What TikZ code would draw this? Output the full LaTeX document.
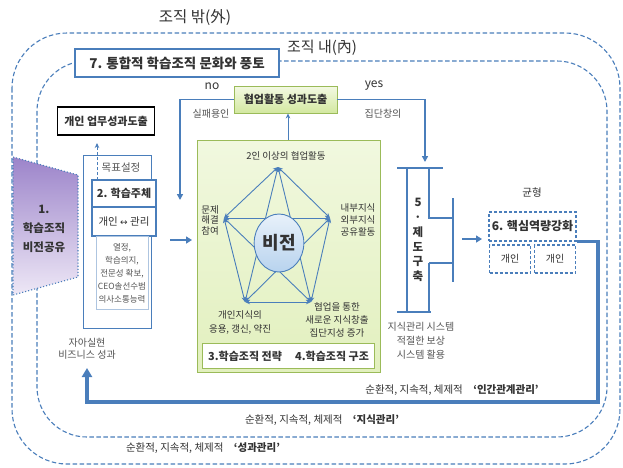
\documentclass[tikz,border=0pt]{standalone}
\usepackage{fontspec}
\setmainfont{Noto Sans CJK KR}
\newfontfamily\dejavu{DejaVu Sans}
\usetikzlibrary{arrows.meta,shapes.geometric}
\definecolor{ob}{HTML}{4A7EBB}
\definecolor{dk}{HTML}{333333}
\definecolor{gy}{HTML}{555555}
\definecolor{gline}{HTML}{9BBB59}
\definecolor{gtop}{HTML}{F1F8DF}
\definecolor{gbot}{HTML}{E2F0BE}
\definecolor{ctop}{HTML}{F3F9E3}
\definecolor{cbot}{HTML}{D3E8A0}
\definecolor{ptop}{HTML}{9C84CA}
\definecolor{pbot}{HTML}{EEE8F6}
\definecolor{etop}{HTML}{E8F1FA}
\definecolor{ebot}{HTML}{B8D3EE}
\newcommand\fz[2]{\fontsize{#1}{#2}\selectfont}
\tikzset{
 every node/.style={text=dk, inner sep=1pt},
 dashframe/.style={draw=ob, dash pattern=on 4.5pt off 2.5pt, line width=1.1pt},
 bluebox/.style={draw=ob, line width=1.5pt, fill=white, inner sep=0pt},
 dashbox/.style={draw=ob, dash pattern=on 3pt off 2pt, line width=1.3pt, fill=white, inner sep=0pt},
 thinarr/.style={draw=ob, line width=0.9pt, -{Stealth[length=5pt,width=4.5pt]}},
 medarr/.style={draw=ob, line width=1.8pt, -{Triangle[length=6pt,width=7pt]}},
 biarr/.style={draw=ob, line width=0.9pt, {Stealth[length=5pt,width=4.5pt]}-{Stealth[length=5pt,width=4.5pt]}},
 smalltxt/.style={font=\fz{10}{12}, text=gy},
 pentlbl/.style={font=\fz{9.5}{11}, text=dk, align=center},
 bottxt/.style={font=\fz{10.5}{12}, text=dk},
}
\begin{document}
\begin{tikzpicture}[x=1pt,y=-1pt]
\useasboundingbox (0,0) rectangle (623,467);
\fill[white] (0,0) rectangle (623,467);

% dashed frames
\draw[dashframe, rounded corners=55pt] (12,33) rectangle (620,464);
\draw[dashframe, rounded corners=50pt] (37,61) rectangle (607,437);

\node[font=\fz{15.5}{17}] (outlbl) at (195,17) {조직 밖(外)};
\node[font=\fz{15}{17}, fill=white, inner sep=2pt] (inlbl) at (322,48) {조직 내(內)};

% box 7
\node[bluebox, minimum width=204pt, minimum height=28pt, font=\fz{13.5}{15}\bfseries] (b7) at (177,63) {7. 통합적 학습조직 문화와 풍토};

% individual performance box
\node[draw=black, line width=1.6pt, fill=white, minimum width=97pt, minimum height=28pt, font=\fz{11}{13}\bfseries] (ind) at (106,121) {개인 업무성과도출};

% purple trapezoid
\shade[top color=ptop, bottom color=pbot] (13,157) -- (78,175) -- (78,277) -- (13,295) -- cycle;
\draw[ob, line width=1.1pt, dotted] (13,157) -- (78,175) -- (78,277) -- (13,295) -- cycle;
\node[font=\fz{11.5}{19}\bfseries, align=center] (v1) at (44,229) {1.\\학습조직\\비전공유};

% goal frame
\node[draw=ob, line width=0.8pt, minimum width=68pt, minimum height=173pt] (gframe) at (117,241.5) {};
\node[font=\fz{10.5}{12}, text=gy] (goal) at (121,168) {목표설정};
\node[bluebox, minimum width=64pt, minimum height=27pt, font=\fz{11}{13}\bfseries] (s2) at (124,193.5) {2. 학습주체};
\node[bluebox, minimum width=64pt, minimum height=29pt, font=\fz{10.5}{12}] (s2b) at (124,221.5) {개인 {\dejavu\fz{9}{12}↔} 관리};
\node[draw=ob!45, line width=0.6pt, minimum width=52pt, minimum height=73pt, font=\fz{8.5}{13}, text=gy, align=center] (lst) at (122,273) {열정,\\학습의지,\\전문성 확보,\\CEO솔선수범\\의사소통능력};
\coordinate (gtopc) at (97,180);
\coordinate (gend) at (97,143);
\draw[ob, line width=0.9pt, dash pattern=on 3pt off 2pt, -{Stealth[length=5pt,width=4.5pt]}] (gtopc) -- (gend);

% arrow to green box
\coordinate (a1s) at (170,240);
\coordinate (a1e) at (192,240);
\draw[medarr] (a1s) -- (a1e);

% green box
\node[draw=gline, line width=0.9pt, top color=gtop, bottom color=gbot, minimum width=183pt, minimum height=232pt] (gbox) at (288.5,256) {};
\node[draw=gline, line width=0.9pt, fill=white, minimum width=172pt, minimum height=25pt, font=\fz{11}{13}\bfseries] (strat) at (288.5,356) {3.학습조직 전략\hspace{1.2em}4.학습조직 구조};

% coop box
\node[draw=gline, line width=0.9pt, top color=ctop, bottom color=cbot, minimum width=103pt, minimum height=27pt, font=\fz{11}{13}\bfseries] (coop) at (285.5,99.5) {협업활동 성과도출};
\draw[thinarr] (gbox.north -| 288,0) -- (coop.south -| 288,0);

% no / yes loops
\coordinate (noend) at (180,200);
\coordinate (yesend) at (425,162);
\draw[ob, line width=1.8pt, -{Triangle[length=6pt,width=6pt]}] (coop.west) -| (noend);
\draw[ob, line width=1.8pt, -{Triangle[length=6pt,width=6pt]}] (coop.east) -| (yesend);
\node[font=\fz{12}{14}] (nolbl) at (212,86) {no};
\node[font=\fz{12}{14}] (yeslbl) at (374,86) {yes};
\node[smalltxt] (fail) at (211,114) {실패용인};
\node[smalltxt] (crea) at (383,114) {집단창의};

% pentagon
\coordinate (pT) at (278,167);
\coordinate (pL) at (224,218);
\coordinate (pR) at (330,218);
\coordinate (pBL) at (245,302);
\coordinate (pBR) at (311,302);
\draw[biarr] (pT) -- (pL);
\draw[biarr] (pT) -- (pR);
\draw[biarr] (pL) -- (pR);
\draw[biarr] (pL) -- (pBL);
\draw[biarr] (pR) -- (pBR);
\draw[biarr] (pBL) -- (pBR);
\draw[biarr] (pT) -- (pBL);
\draw[biarr] (pT) -- (pBR);
\draw[biarr] (pL) -- (pBR);
\draw[biarr] (pR) -- (pBL);
\node[ellipse, draw=ob, line width=0.9pt, top color=etop, bottom color=ebot, minimum width=46pt, minimum height=58pt, font=\fz{18}{20}\bfseries] (vis) at (279,243) {비전};

\node[pentlbl] (lT) at (286,156) {2인 이상의 협업활동};
\node[pentlbl, font=\fz{9.5}{10.5}] (lL) at (210,220) {문제\\해결\\참여};
\node[pentlbl, font=\fz{9.5}{12}] (lR) at (358,220) {내부지식\\외부지식\\공유활동};
\node[pentlbl, font=\fz{9.5}{14}] (lBL) at (240,322) {개인지식의\\응용, 갱신, 약진};
\node[pentlbl, font=\fz{9.5}{13}] (lBR) at (337,320) {협업을 통한\\새로운 지식창출\\집단지성 증가};

% 5 structure
\draw[ob, line width=2.4pt] (397,168) -- (443,168);
\draw[ob, line width=2.4pt] (407,168) -- (407,312);
\draw[ob, line width=2.4pt] (397,312) -- (431,312);
\draw[ob, line width=2.4pt] (429,168) -- (429,218) -- (453,218);
\draw[ob, line width=2.4pt] (453,198) -- (453,282);
\draw[ob, line width=2.4pt] (429,263) -- (453,263) ;
\draw[ob, line width=2.4pt] (429,263) -- (429,312);
\node[font=\fz{11.5}{14.8}\bfseries, align=center] (s5) at (418,240) {5\\·\\제\\도\\구\\축};
\node[smalltxt, font=\fz{10}{14}, align=center] (sys) at (421,341) {지식관리 시스템\\적절한 보상\\시스템 활용};

% arrow to 6
\coordinate (a2s) at (462,239);
\coordinate (a2e) at (482,239);
\draw[medarr] (a2s) -- (a2e);

\node[font=\fz{10.5}{12}] (bal) at (532,193) {균형};
\node[dashbox, minimum width=87pt, minimum height=29pt, font=\fz{12}{14}\bfseries] (s6) at (532.5,226.5) {6. 핵심역량강화};
\node[dashbox, minimum width=41pt, minimum height=28pt, font=\fz{10}{12}] (p1) at (510,259) {개인};
\node[dashbox, minimum width=41pt, minimum height=28pt, font=\fz{10}{12}] (p2) at (555,259) {개인};

% big return loop
\coordinate (ret) at (87,368);
\draw[ob, line width=3.2pt, -{Triangle[length=9pt,width=10pt]}] (s6.south east) -| (598,402) -| (ret);
\node[smalltxt, font=\fz{10}{12}, align=center] (self) at (87,349) {자아실현\\비즈니스 성과};

% bottom texts
\node[bottxt] (t1) at (452,390) {순환적, 지속적, 체제적\quad\textbf{‘인간관계관리’}};
\node[bottxt] (t2) at (322,420) {순환적, 지속적, 체제적\quad\textbf{‘지식관리’}};
\node[bottxt] (t3) at (203,448) {순환적, 지속적, 체제적\quad\textbf{‘성과관리’}};
\end{tikzpicture}
\end{document}
